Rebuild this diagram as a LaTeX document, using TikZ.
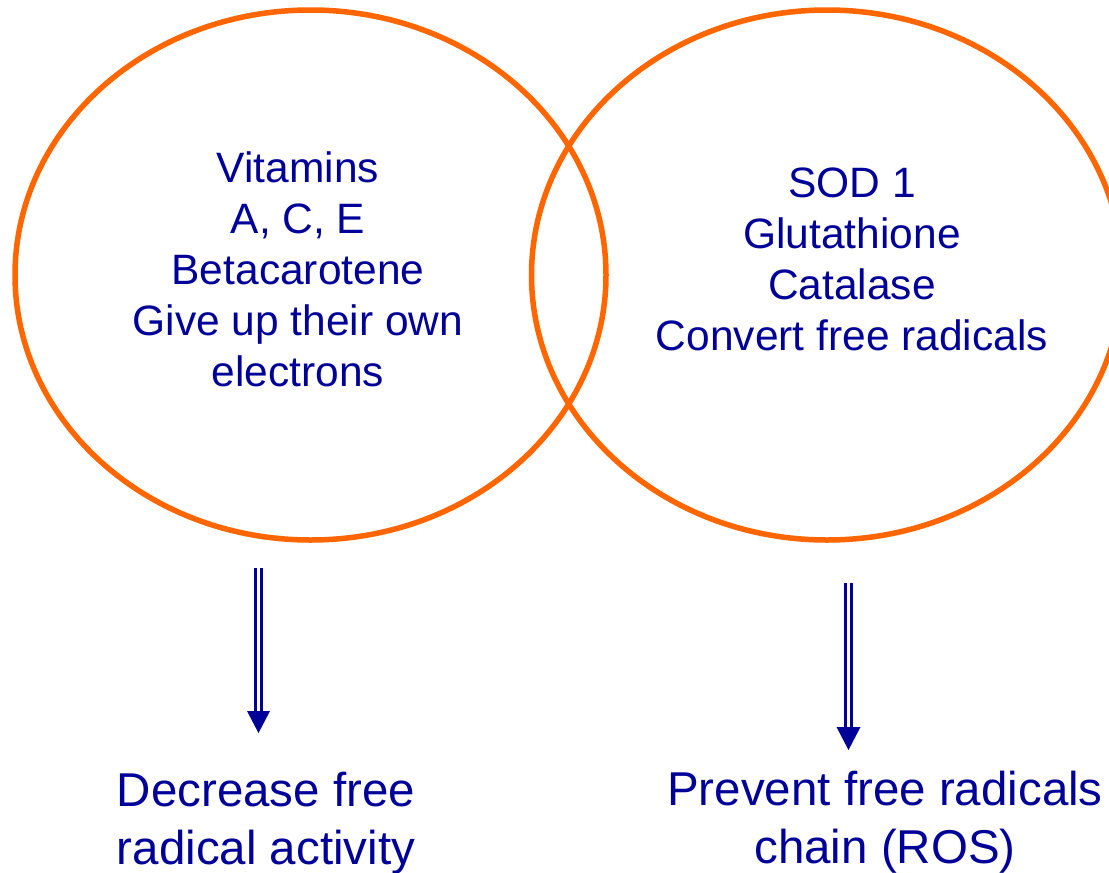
\documentclass[tikz,border=0pt]{standalone}
\usepackage{fontspec}
\setmainfont{Liberation Sans}
\usetikzlibrary{shapes.geometric}
\definecolor{ringorange}{HTML}{FF6600}
\definecolor{txtblue}{HTML}{000099}
\tikzset{
  ring/.style={ellipse, draw=ringorange, line width=5.5pt, inner sep=0pt, outer sep=0pt, minimum width=591pt, minimum height=530pt},
  bodytext/.style={text=txtblue, align=center, inner sep=0pt, anchor=north, font=\fontsize{42.5pt}{51pt}\selectfont},
  resulttext/.style={text=txtblue, align=center, inner sep=0pt, anchor=north, font=\fontsize{47.5pt}{57.5pt}\selectfont},
  shaft/.style={draw=txtblue, line width=3pt, double=white, double distance=2.5pt},
  headtri/.style={fill=txtblue}
}
\begin{document}
\begin{tikzpicture}[x=1pt,y=-1pt]
\useasboundingbox (0,0) rectangle (1109,873);
\node[ring] (e1) at (310.5,275) {};
\node[ring] (e2) at (827,275) {};
\node[bodytext] (t1) at (298,151) {Vitamins\\A, C, E\\Betacarotene\\Give up their own\\electrons};
\node[bodytext] (t2) at (852,168) {SOD 1\\Glutathione\\Catalase\\Convert free radicals};
\node[resulttext] (r1) at (266,772) {Decrease free\\radical activity};
\node[resulttext] (r2) at (885,771) {Prevent free radicals\\chain (ROS)};
% left arrow
\coordinate (a1s) at (258.5,568);
\coordinate (a1b) at (258.5,711);
\coordinate (a1t) at (258.5,733);
\draw[shaft] (a1s) -- (a1b);
\fill[headtri] ([xshift=-11.5pt]a1b) -- ([xshift=11.5pt]a1b) -- (a1t) -- cycle;
% right arrow
\coordinate (a2s) at (848.5,583);
\coordinate (a2b) at (848.5,727);
\coordinate (a2t) at (848.5,750);
\draw[shaft] (a2s) -- (a2b);
\fill[headtri] ([xshift=-12pt]a2b) -- ([xshift=12pt]a2b) -- (a2t) -- cycle;
\end{tikzpicture}
\end{document}
